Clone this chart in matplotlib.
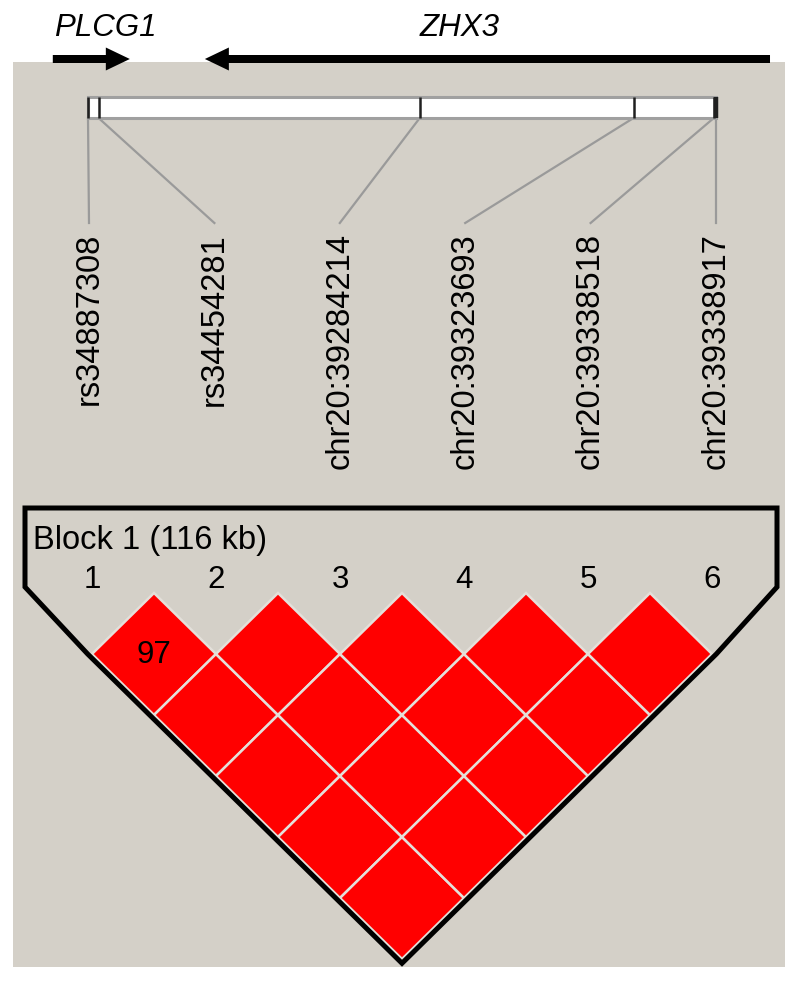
import matplotlib
matplotlib.use("Agg")
import matplotlib.pyplot as plt
from matplotlib.patches import Rectangle, Polygon

plt.rcParams['font.family'] = ['Liberation Sans', 'DejaVu Sans']

# ---------------- data ----------------
markers = ["rs34887308", "rs34454281", "chr20:39284214",
           "chr20:39323693", "chr20:39338518", "chr20:39338917"]
positions = [39222950, 39224900, 39284214, 39323693, 39338518, 39338917]
marker_numbers = ["1", "2", "3", "4", "5", "6"]
genes = ["PLCG1", "ZHX3"]
gene_start = [39216450, 39244530]
gene_end = [39230675, 39348890]
gene_strand = [1, -1]
block_label = "Block 1 (116 kb)"
# pairwise D' x100 : dprime[i][k] is pair (i, i+1+k)
dprime = [[97, 100, 100, 100, 100],
          [100, 100, 100, 100],
          [100, 100, 100],
          [100, 100],
          [100]]

# ---------------- layout ----------------
W, H = 800, 982
BG = '#D4D0C8'
fig = plt.figure(figsize=(W / 100, H / 100), dpi=100)
fig.patch.set_facecolor('white')


def overlay(xlim, ylim):
    ax = fig.add_axes([0, 0, 1, 1])
    ax.set_xlim(*xlim)
    ax.set_ylim(*ylim)
    ax.axis('off')
    return ax


# pixel-space axes (background, labels)
ax_bg = overlay((0, W), (H, 0))
ax_bg.add_patch(Rectangle((13, 62), 772, 905, fc=BG, ec='none', zorder=0))

# genomic-space axes for the map
bar_px0, bar_px1 = 88, 716
s = (positions[-1] - positions[0]) / (bar_px1 - bar_px0)
gx0 = positions[0] - bar_px0 * s
ax_map = overlay((gx0, gx0 + W * s), (H, 0))

bar_top, bar_bot = 97, 118
ax_map.add_patch(Rectangle((positions[0], bar_top), positions[-1] - positions[0],
                           bar_bot - bar_top, fc='white', ec='#a0a0a0', lw=2.2, zorder=2))
for k, p in enumerate(positions):
    lw = 3.2 if k == len(positions) - 1 else 1.8
    ax_map.plot([p, p], [bar_top, bar_bot], color='#202020', lw=lw,
                solid_capstyle='butt', zorder=3)

# connectors and rotated labels
label_px = [89 + i * (716 - 89) / (len(markers) - 1) for i in range(len(markers))]
for p, lx, name in zip(positions, label_px, markers):
    ax_map.plot([p, gx0 + lx * s], [bar_bot, 223], color='#9a9a9a', lw=1.6, zorder=1)
    ax_bg.text(lx, 233, name, rotation=90, ha='center', va='top',
               fontsize=23.5, color='black')

# gene arrows
arrow_y = 59
for g, a, b, st in zip(genes, gene_start, gene_end, gene_strand):
    tail, head = (a, b) if st > 0 else (b, a)
    ax_map.arrow(tail, arrow_y, head - tail, 0, width=8, head_width=23,
                 head_length=24 * s, length_includes_head=True,
                 fc='black', ec='black', lw=0, zorder=4)
gene_label_px = [105, 460]
for g, gx in zip(genes, gene_label_px):
    ax_bg.text(gx, 28, g, ha='center', va='center', fontsize=22.5,
               style='italic', color='black')

# LD triangle axes: x = marker index, y = half-row units
ld_x0, ld_dx = 92, 124
ld_y0, ld_dy = 593, 122
ax_ld = overlay((-ld_x0 / ld_dx, (W - ld_x0) / ld_dx),
                ((H - ld_y0) / ld_dy, -ld_y0 / ld_dy))

n = len(markers)
for i in range(n - 1):
    for k, v in enumerate(dprime[i]):
        j = i + 1 + k
        c, yc = (i + j) / 2, (j - i) / 2
        ax_ld.add_patch(Polygon([(c, yc - 0.5), (c + 0.5, yc), (c, yc + 0.5), (c - 0.5, yc)],
                                closed=True, fc='#FF0000', ec='#E4E0DA', lw=1.8, zorder=2))
        if v < 100:
            ax_ld.text(c, yc + 0.01, str(v), ha='center', va='center',
                       fontsize=22.5, color='black', zorder=3)

for i, lab in enumerate(marker_numbers):
    ax_ld.text(i, -0.107, lab, ha='center', va='center', fontsize=22.5, color='black')

# block outline
d = 0.035
left = (25 - ld_x0) / ld_dx
right = (777 - ld_x0) / ld_dx
top = (508 - ld_y0) / ld_dy
corner = (587 - ld_y0) / ld_dy
outline = [(left, top), (right, top), (right, corner),
           (n - 1 + d, 0.5), ((n - 1) / 2, (n - 1) / 2 + 0.5 + d),
           (-d, 0.5), (left, corner)]
ax_ld.add_patch(Polygon(outline, closed=True, fc='none', ec='black', lw=3.6,
                        joinstyle='miter', zorder=4))

ax_bg.text(33, 540, block_label, ha='left', va='center', fontsize=23.5, color='black')

fig.savefig('out.png', dpi=100, facecolor='white')
